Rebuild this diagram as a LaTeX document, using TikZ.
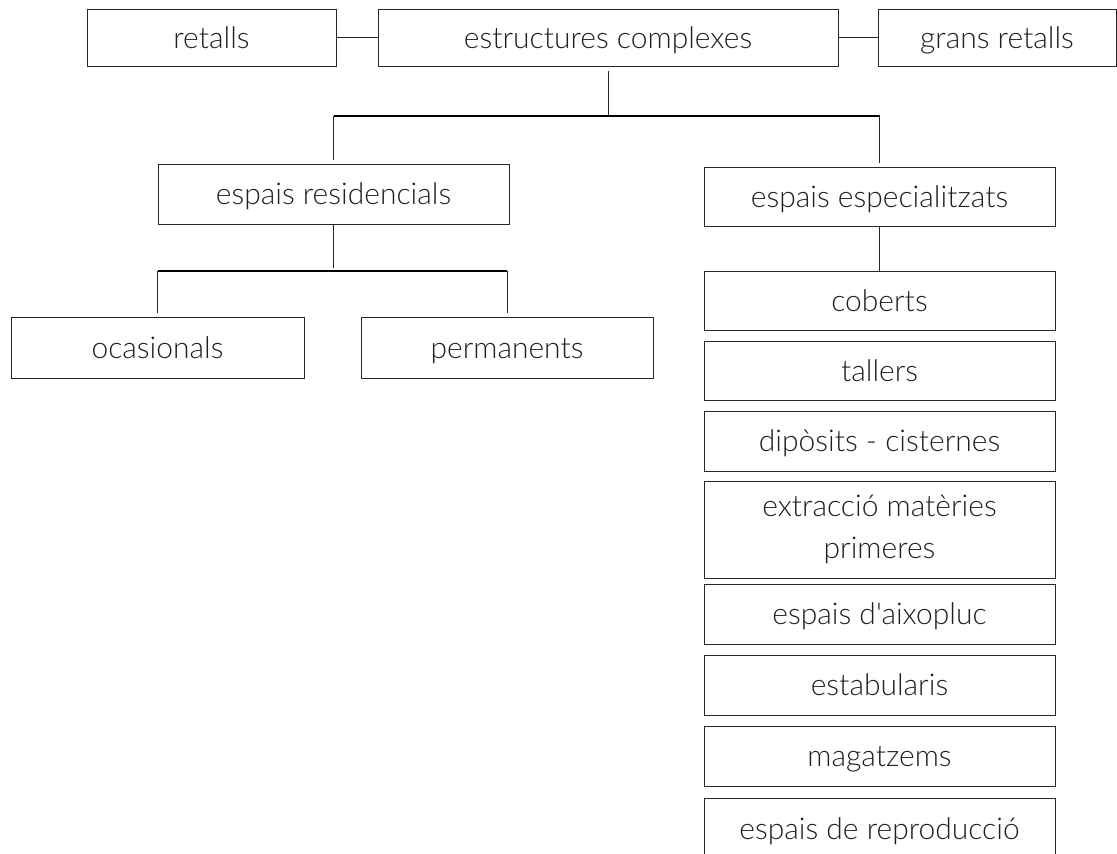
\documentclass[tikz,border=0pt]{standalone}
\usepackage{fontspec}
\setmainfont{Lato Light}[Ligatures=TeXOff]
\begin{document}
\begin{tikzpicture}[x=1pt,y=-1pt,
  box/.style={draw=black!85, line width=1pt, inner sep=0pt, font=\fontsize{30}{42}\selectfont, text=black!88, align=center, text height=24pt, text depth=3pt},
  conn/.style={draw=black!85, line width=1pt},
  bar/.style={draw=black, line width=1.6pt}]
\useasboundingbox (0,0) rectangle (1117,854);
\node[box, minimum width=249pt, minimum height=57pt] (retalls) at (211.5,37.5) {retalls};
\node[box, minimum width=460pt, minimum height=57pt] (estr) at (608,37.5) {estructures complexes};
\node[box, minimum width=238pt, minimum height=57pt] (grans) at (997,37.5) {grans retalls};
\node[box, minimum width=351pt, minimum height=60pt] (resid) at (333.5,194) {espais residencials};
\node[box, minimum width=351pt, minimum height=59pt] (espec) at (879.5,196.5) {espais especialitzats};
\node[box, minimum width=293pt, minimum height=61pt] (ocas) at (157.5,347.5) {ocasionals};
\node[box, minimum width=292pt, minimum height=61pt] (perm) at (507,347.5) {permanents};
\node[box, minimum width=351pt, minimum height=59pt] (cob) at (879.5,300.5) {coberts};
\node[box, minimum width=351pt, minimum height=59pt] (tall) at (879.5,370.5) {tallers};
\node[box, minimum width=351pt, minimum height=60pt] (dip) at (879.5,441) {dipòsits - cisternes};
\node[box, minimum width=351pt, minimum height=97pt, text height=, text depth=] (extr) at (879.5,529.5) {extracció matèries\\primeres};
\node[box, minimum width=351pt, minimum height=60pt] (aix) at (879.5,614) {espais d'aixopluc};
\node[box, minimum width=351pt, minimum height=60pt] (estab) at (879.5,685) {estabularis};
\node[box, minimum width=351pt, minimum height=60pt] (mag) at (879.5,756) {magatzems};
\node[box, minimum width=351pt, minimum height=62pt] (repr) at (879.5,829) {espais de reproducció};
% side connectors
\draw[conn] (retalls) -- (estr);
\draw[conn] (estr) -- (grans);
% first level
\coordinate (b1) at (608,116);
\draw[conn] ([yshift=-4pt]estr.south) -- (b1);
\draw[bar] (resid.north |- b1) -- (espec.north |- b1);
\draw[conn] (resid.north |- b1) -- ([yshift=4pt]resid.north);
\draw[conn] (espec.north |- b1) -- ([yshift=4pt]espec.north);
% residencials
\coordinate (b2) at (333.5,271);
\draw[conn] (resid.south) -- ([yshift=3pt]b2);
\draw[bar] (ocas.north |- b2) -- (perm.north |- b2);
\draw[conn] (ocas.north |- b2) -- ([yshift=4pt]ocas.north);
\draw[conn] (perm.north |- b2) -- ([yshift=4pt]perm.north);
% especialitzats
\draw[conn] (espec) -- (cob);
\end{tikzpicture}
\end{document}
